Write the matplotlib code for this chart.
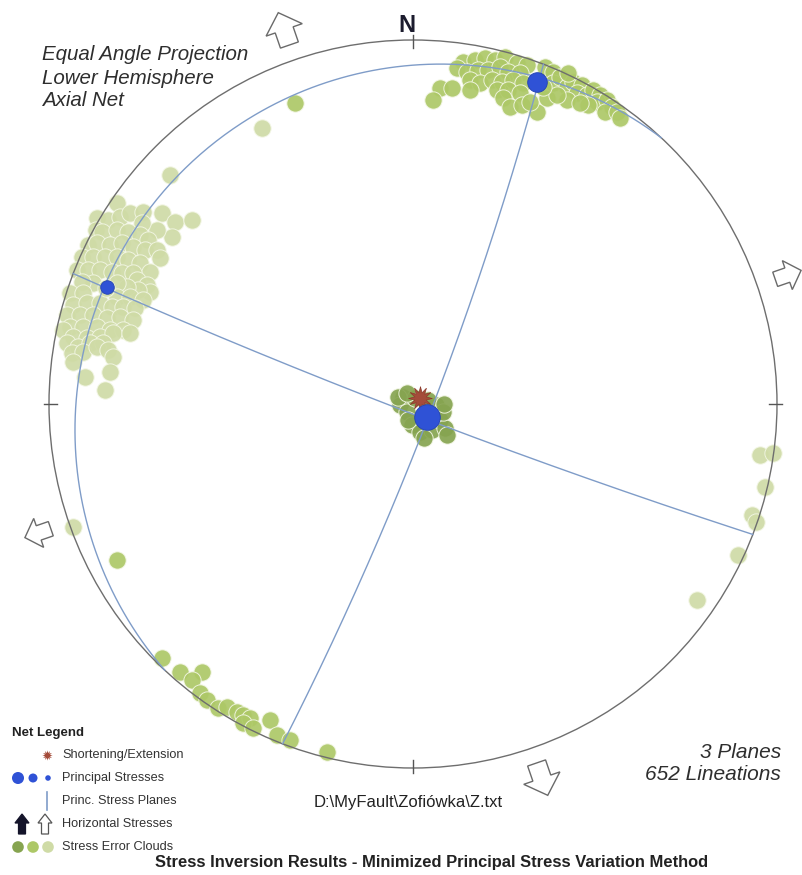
import numpy as np
import matplotlib.pyplot as plt
from matplotlib.patches import Polygon, Circle

plt.rcParams['font.family'] = ['Liberation Sans', 'DejaVu Sans']

# principal stress axes: trend / plunge in degrees (sigma1, sigma2, sigma3)
stress_trend = [133, 21, 291]
stress_plunge = [84, 3, 6]
stress_msize = [340, 200, 95]

# shortening direction (trend, plunge)
short_trend, short_plunge = 49, 87

# horizontal stress directions (azimuth, degrees) and arrow scale
horiz_azimuth = [341, 161, 71, 251]
horiz_scale = [1.0, 1.0, 0.8, 0.8]

# stress error clouds, projected net positions (east, north), unit = net radius
s1_cloud_x = [-0.027, -0.036, -0.016, -0.003, 0.019, 0.052, 0.074, 0.088, 0.063,
              0.041, 0.082, 0.030, -0.014, 0.093, 0.005, -0.041, -0.016, 0.085]
s1_cloud_y = [0.019, -0.003, -0.022, -0.058, -0.077, -0.071, -0.044, -0.066, -0.003,
              0.011, -0.022, -0.093, -0.044, -0.085, 0.016, 0.019, 0.030, 0.000]

s2_cloud_x = [0.137, 0.170, 0.198, 0.225, 0.253, 0.286, 0.313, 0.363, 0.385, 0.121,
              0.148, 0.179, 0.206, 0.239, 0.261, 0.294, 0.157, 0.184, 0.217, 0.245,
              0.275, 0.302, 0.074, 0.107, 0.055, 0.157, 0.231, 0.261, 0.294, 0.247,
              0.266, 0.299, 0.341, 0.321, 0.368, 0.385, 0.404, 0.423, 0.440, 0.464,
              0.451, 0.423, 0.478, 0.495, 0.514, 0.505, 0.533, 0.547, 0.527, 0.560,
              0.569, 0.481, 0.459, 0.396, 0.357, 0.426,
              -0.690, -0.640, -0.580, -0.607, -0.585, -0.566, -0.536, -0.511, -0.484,
              -0.467, -0.448, -0.467, -0.440, -0.393, -0.374, -0.338, -0.236,
              -0.324, -0.813]
s2_cloud_y = [0.940, 0.945, 0.951, 0.945, 0.953, 0.937, 0.931, 0.926, 0.912, 0.923,
              0.912, 0.918, 0.918, 0.926, 0.912, 0.909, 0.890, 0.882, 0.890, 0.885,
              0.890, 0.882, 0.868, 0.868, 0.835, 0.863, 0.863, 0.863, 0.854, 0.841,
              0.816, 0.821, 0.802, 0.830, 0.841, 0.882, 0.898, 0.871, 0.885, 0.876,
              0.854, 0.835, 0.849, 0.863, 0.849, 0.830, 0.835, 0.816, 0.802, 0.802,
              0.786, 0.821, 0.827, 0.849, 0.871, 0.909,
              -0.698, -0.736, -0.736, -0.758, -0.794, -0.813, -0.835, -0.832, -0.846,
              -0.854, -0.863, -0.876, -0.890, -0.868, -0.909, -0.923, -0.956,
              0.827, -0.429]

s3_cloud_x = [-0.813, -0.868, -0.838, -0.805, -0.777, -0.742, -0.690, -0.654, -0.607,
              -0.662, -0.703, -0.745, -0.871, -0.854, -0.813, -0.783, -0.750, -0.728,
              -0.893, -0.868, -0.832, -0.799, -0.769, -0.736, -0.703, -0.695, -0.909,
              -0.879, -0.846, -0.813, -0.783, -0.750, -0.723, -0.923, -0.893, -0.860,
              -0.827, -0.799, -0.769, -0.758, -0.731, -0.723, -0.755, -0.786, -0.813,
              -0.879, -0.909, -0.942, -0.907, -0.813, -0.777, -0.742, -0.934, -0.896,
              -0.860, -0.827, -0.797, -0.764, -0.951, -0.915, -0.879, -0.841, -0.805,
              -0.769, -0.942, -0.907, -0.868, -0.832, -0.797, -0.962, -0.934, -0.896,
              -0.860, -0.824, -0.777, -0.951, -0.920, -0.887, -0.852, -0.937, -0.907,
              -0.868, -0.838, -0.824, -0.934, -0.901, -0.832, -0.846, -0.843,
              -0.668, -0.415, -0.934, 0.780,
              0.953, 0.989, 0.967, 0.931, 0.942, 0.893]
s3_cloud_y = [0.552, 0.511, 0.505, 0.514, 0.525, 0.527, 0.525, 0.500, 0.505,
              0.459, 0.478, 0.497, 0.478, 0.473, 0.478, 0.473, 0.464, 0.451,
              0.437, 0.442, 0.437, 0.442, 0.431, 0.423, 0.423, 0.401, 0.404,
              0.404, 0.404, 0.404, 0.396, 0.387, 0.363, 0.368, 0.368, 0.368,
              0.363, 0.360, 0.360, 0.341, 0.327, 0.308, 0.313, 0.321, 0.332,
              0.332, 0.335, 0.305, 0.305, 0.294, 0.294, 0.286, 0.272, 0.277,
              0.277, 0.266, 0.266, 0.264, 0.245, 0.245, 0.245, 0.236, 0.239,
              0.231, 0.212, 0.212, 0.212, 0.203, 0.203, 0.203, 0.184, 0.181,
              0.184, 0.195, 0.195, 0.168, 0.157, 0.168, 0.168, 0.140, 0.143,
              0.157, 0.148, 0.129, 0.115, 0.074, 0.088, 0.038, 0.319,
              0.629, 0.758, -0.338, -0.538,
              -0.140, -0.135, -0.228, -0.305, -0.324, -0.415]

cloud_colors = ['#86a450', '#adc867', '#cfdba6']
blue = '#2f52d6'
plane_color = '#7f9cc8'


def to_vec(trend, plunge):
    t, p = np.radians(trend), np.radians(plunge)
    return np.array([np.cos(p) * np.cos(t), np.cos(p) * np.sin(t), np.sin(p)])


def project(trend, plunge):
    # equal angle (stereographic), lower hemisphere
    n, e, d = to_vec(trend, plunge)
    return e / (1 + d), n / (1 + d)


def great_circle(pole_trend, pole_plunge):
    n = to_vec(pole_trend, pole_plunge)
    a = np.cross(n, [0, 0, 1.0])
    a /= np.linalg.norm(a)
    b = np.cross(n, a)
    if b[2] < 0:
        b = -b
    t = np.linspace(0, np.pi, 400)
    v = np.outer(np.cos(t), a) + np.outer(np.sin(t), b)
    return v[:, 1] / (1 + v[:, 2]), v[:, 0] / (1 + v[:, 2])


def block_arrow(cx, cy, ux, uy, length, shaft, head, head_len):
    wx, wy = uy, -ux
    pts = [(-length / 2, -shaft / 2), (length / 2 - head_len, -shaft / 2),
           (length / 2 - head_len, -head / 2), (length / 2, 0),
           (length / 2 - head_len, head / 2), (length / 2 - head_len, shaft / 2),
           (-length / 2, shaft / 2)]
    return [(cx + a * ux + c * wx, cy + a * uy + c * wy) for a, c in pts]


W, H = 803, 875
X0, Y0, R = 413, 404, 364   # net centre and radius on the page, pixels

fig = plt.figure(figsize=(W / 100, H / 100), dpi=100)
ax = fig.add_axes([0, 0, 1, 1])
ax.set_xlim(-X0 / R, (W - X0) / R)
ax.set_ylim(-(H - Y0) / R, Y0 / R)
ax.axis('off')

# error clouds
for cx, cy, col in [(s3_cloud_x, s3_cloud_y, cloud_colors[2]),
                    (s2_cloud_x, s2_cloud_y, cloud_colors[1]),
                    (s1_cloud_x, s1_cloud_y, cloud_colors[0])]:
    ax.scatter(cx, cy, s=155, color=col, edgecolors='#f2f6e4', linewidths=0.7,
               alpha=0.92, zorder=2)

# primitive circle and cardinal ticks
ax.add_patch(Circle((0, 0), 1, fill=False, ec='#6e6e6e', lw=1.0, zorder=3))
for az in [0, 90, 180, 270]:
    s, c = np.sin(np.radians(az)), np.cos(np.radians(az))
    ax.plot([0.978 * s, 1.014 * s], [0.978 * c, 1.014 * c], color='#555555',
            lw=1.0, zorder=3)

# principal stress planes (each normal to one principal axis)
for t, p in zip(stress_trend, stress_plunge):
    gx, gy = great_circle(t, p)
    ax.plot(gx, gy, color=plane_color, lw=1.0, zorder=3)

# shortening / extension marker
sx, sy = project(short_trend, short_plunge)
ax.scatter([sx], [sy], marker=(12, 1, 0), s=290, color='#a44c3a',
           edgecolors='#8c3a2a', linewidths=0.5, zorder=4)

# principal stresses
for t, p, ms in zip(stress_trend, stress_plunge, stress_msize):
    px, py = project(t, p)
    ax.scatter([px], [py], s=ms, color=blue, edgecolors='#2443b0',
               linewidths=0.6, zorder=5)

# horizontal stress arrows (open = extension)
for az, sc in zip(horiz_azimuth, horiz_scale):
    ux, uy = np.sin(np.radians(az)), np.cos(np.radians(az))
    pts = block_arrow(1.09 * ux, 1.09 * uy, ux, uy, 0.094 * sc, 0.052 * sc,
                      0.105 * sc, 0.05 * sc)
    ax.add_patch(Polygon(pts, closed=True, fc='white', ec='#6a6a6a', lw=1.0,
                         zorder=3, clip_on=False))


def fx(px):
    return px / W


def fy(py):
    return 1 - py / H


txt = '#2e2e2e'
for i, line in enumerate(['Equal Angle Projection', 'Lower Hemisphere', 'Axial Net']):
    fig.text(fx(42), fy(55 + 23 * i), line, style='italic', size=14.8,
             color=txt, va='center', ha='left')
fig.text(fx(407), fy(26), 'N', weight='bold', size=17, color='#1c1c2e',
         ha='center', va='center')
fig.text(fx(781), fy(752), '3 Planes', style='italic', size=15, color=txt,
         ha='right', va='center')
fig.text(fx(781), fy(775), '652 Lineations', style='italic', size=15,
         color=txt, ha='right', va='center')
fig.text(fx(408), fy(803), 'D:\\MyFault\\Zofiówka\\Z.txt', size=12, color='#222222',
         ha='center', va='center')
fig.text(fx(432), fy(862),
         'Stress Inversion Results - Minimized Principal Stress Variation Method',
         weight='bold', size=11.9, color='#222222', ha='center', va='center')

# net legend
lax = fig.add_axes([0, 0, 1, 1])
lax.set_xlim(0, W)
lax.set_ylim(H, 0)
lax.axis('off')
lax.text(12, 733, 'Net Legend', weight='bold', size=9.5, color='#222222', va='center')
labels = ['Shortening/Extension', 'Principal Stresses', 'Princ. Stress Planes',
          'Horizontal Stresses', 'Stress Error Clouds']
for i, lab in enumerate(labels):
    lax.text(62, 755 + 23 * i, lab, size=9.2, color='#333333', va='center')

lax.scatter([47], [755], marker=(12, 1, 0), s=55, color='#a44c3a', lw=0)
lax.scatter([18, 33, 48], [778] * 3, s=[75, 42, 16], color=blue, lw=0)
lax.plot([47, 47], [792, 810], color=plane_color, lw=1.2)
for x0, fc in [(22, '#14142a'), (45, 'white')]:
    up = block_arrow(x0, 824, 0, -1, 20, 7, 14, 9)
    lax.add_patch(Polygon(up, closed=True, fc=fc, ec='#555555' if fc == 'white' else fc,
                          lw=0.9))
lax.scatter([18, 33, 48], [847] * 3, s=70, color=cloud_colors, lw=0)

fig.savefig('out.png', dpi=100)
